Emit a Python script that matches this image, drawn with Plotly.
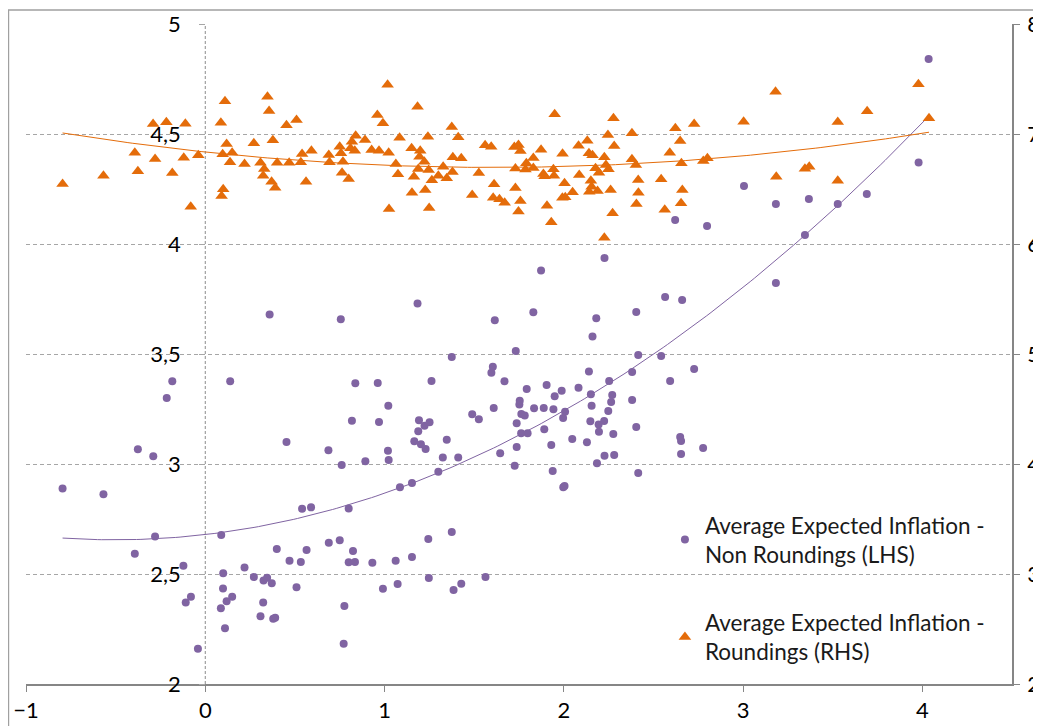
import numpy as np
import plotly.graph_objects as go

# ---------------- data ----------------
non_round_x = [-0.796, -0.568, -0.393, -0.376, -0.290, -0.280, -0.215, -0.184, -0.122, -0.109, -0.080, -0.041,
               0.089, 0.100, 0.099, 0.087, 0.110, 0.119, 0.150, 0.139, 0.219, 0.271, 0.325, 0.345, 0.371, 0.323,
               0.308, 0.379, 0.390, 0.399, 0.359, 0.453, 0.470, 0.533, 0.509, 0.565, 0.540, 0.590,
               0.689, 0.750, 0.824, 0.800, 0.835, 0.800, 0.932, 0.776, 0.772, 0.991, 1.062, 1.073, 1.153, 1.244,
               1.247, 1.375, 1.385, 1.428, 1.563,
               0.687, 0.756, 0.761, 0.818, 0.837, 0.893, 0.962, 0.969, 1.021, 1.019, 1.023, 1.086, 1.153, 1.184,
               1.192, 1.188, 1.166, 1.203, 1.229, 1.223, 1.251, 1.262, 1.300, 1.325, 1.347, 1.375, 1.411, 1.489,
               1.526, 1.596, 1.604, 1.615, 1.609, 1.645, 1.669, 1.732, 1.726, 1.737, 1.737, 1.752, 1.754, 1.762,
               1.763, 1.782, 1.798, 1.793, 1.830, 1.834, 1.888, 1.891, 1.904, 1.930, 1.938, 1.942, 1.949, 1.988,
               1.996, 2.007, 1.997, 2.004, 2.047, 2.082, 2.129, 2.140, 2.151, 2.155, 2.148, 2.160, 2.181, 2.194,
               2.196, 2.185, 2.227, 2.225, 2.253, 2.270, 2.264, 2.248, 1.873, 2.227,
               2.276, 2.281, 2.381, 2.381, 2.404, 2.404, 2.415, 2.415, 2.543, 2.565, 2.593, 2.621, 2.649, 2.654,
               2.654, 2.660, 2.727, 2.777, 2.799, 3.005, 3.183, 3.183, 3.345, 3.367, 3.528, 3.690, 3.979, 4.035]
non_round_y = [2.889, 2.862, 2.592, 3.067, 3.035, 2.671, 3.300, 3.376, 2.538, 2.370, 2.397, 2.160,
               2.677, 2.503, 2.434, 2.344, 2.253, 2.376, 2.397, 3.376, 2.529, 2.486, 2.471, 2.483, 2.458, 2.370,
               2.308, 2.297, 2.301, 2.614, 3.680, 3.100, 2.560, 2.555, 2.440, 2.609, 2.797, 2.803,
               2.642, 2.653, 2.605, 2.553, 2.555, 2.798, 2.551, 2.355, 2.183, 2.433, 2.560, 2.455, 2.577, 2.659,
               2.482, 2.691, 2.427, 2.456, 2.486,
               3.062, 3.658, 2.995, 3.197, 3.367, 3.012, 3.368, 3.191, 3.265, 3.060, 3.018, 2.894, 2.914, 3.729,
               3.199, 3.149, 3.103, 3.090, 3.068, 3.174, 3.190, 3.377, 2.965, 3.029, 3.110, 3.486, 3.029, 3.226,
               3.203, 3.415, 3.442, 3.653, 3.255, 3.049, 3.376, 3.514, 2.992, 3.077, 3.185, 3.271, 3.288, 3.140,
               3.227, 3.221, 3.140, 3.341, 3.690, 3.253, 3.255, 3.158, 3.359, 3.086, 2.968, 3.249, 3.308, 3.333,
               3.209, 3.238, 2.894, 2.900, 3.114, 3.347, 3.099, 3.420, 3.317, 3.265, 3.194, 3.580, 3.662, 3.179,
               3.147, 3.003, 3.038, 3.195, 3.377, 3.314, 3.282, 3.241, 3.880, 3.936,
               3.136, 3.041, 3.418, 3.291, 3.691, 3.168, 3.495, 2.959, 3.491, 3.759, 3.377, 4.109, 3.123, 3.105,
               3.045, 3.745, 3.432, 3.073, 4.082, 4.264, 4.182, 3.823, 4.041, 4.205, 4.182, 4.227, 4.370, 4.841]

round_x = [-0.796, -0.568, -0.393, -0.376, -0.291, -0.217, -0.111, -0.280, -0.184, -0.120, -0.081, -0.039,
           0.110, 0.087, 0.091, 0.100, 0.119, 0.097, 0.150, 0.138, 0.219, 0.271, 0.347, 0.356, 0.377, 0.308,
           0.329, 0.323, 0.370, 0.390, 0.401, 0.453, 0.509, 0.468, 0.533, 0.540, 0.562, 0.592,
           0.689, 0.693, 0.750, 0.757, 0.768, 0.763, 0.800, 0.810, 0.818, 0.839, 0.834, 0.891, 0.928, 0.969,
           0.960, 0.991, 1.017, 1.023, 1.025, 1.063, 1.075, 1.084,
           1.151, 1.153, 1.184, 1.199, 1.195, 1.222, 1.188, 1.164, 1.242, 1.246, 1.264, 1.227, 1.249, 1.300,
           1.327, 1.375, 1.411, 1.381, 1.428, 1.347, 1.379, 1.526, 1.489, 1.561, 1.595, 1.611, 1.606, 1.641,
           1.670,
           1.724, 1.747, 1.758, 1.730, 1.730, 1.758, 1.747, 1.786, 1.791, 1.830, 1.830,
           1.873, 1.886, 1.893, 1.942, 1.945, 1.906, 1.930, 1.949, 1.993, 2.004, 1.992, 2.008, 2.049, 2.082,
           2.131, 2.140, 2.160, 2.086, 2.151, 2.155, 2.142, 2.188, 2.177, 2.196, 2.226, 2.226, 2.246,
           2.277, 2.281, 2.235, 2.249, 2.261, 2.272, 2.380, 2.380, 2.402, 2.415, 2.416, 2.405, 2.543, 2.563,
           2.622, 2.649, 2.591, 2.656, 2.661, 2.654, 2.727, 2.778, 2.801, 3.003, 3.185, 3.181, 3.345, 3.369,
           3.528, 3.692, 3.978, 4.037, 3.528]
round_y = [6.545, 6.621, 6.830, 6.661, 7.091, 7.106, 7.094, 6.773, 6.645, 6.785, 6.339, 6.806,
           7.297, 7.103, 6.436, 6.497, 6.909, 6.815, 6.830, 6.743, 6.727, 6.915, 7.339, 7.209, 6.943, 6.739,
           6.682, 6.621, 6.566, 6.512, 6.739, 7.079, 7.127, 6.739, 6.743, 6.818, 6.566, 6.848,
           6.809, 6.743, 6.885, 6.825, 6.748, 6.648, 6.591, 6.870, 6.930, 6.985, 6.848, 6.945, 6.855, 6.848,
           7.173, 7.097, 7.448, 6.830, 6.318, 6.727, 6.634, 6.966,
           6.870, 6.466, 7.248, 6.848, 6.794, 6.748, 6.682, 6.612, 6.975, 6.673, 6.579, 6.491, 6.327, 6.621,
           6.703, 7.064, 6.970, 6.788, 6.779, 6.597, 6.655, 6.645, 6.445, 6.897, 6.885, 6.543, 6.421, 6.406,
           6.375,
           6.882, 6.900, 6.845, 6.686, 6.509, 6.391, 6.295, 6.677, 6.734, 6.782, 6.691,
           6.857, 6.636, 6.615, 6.679, 6.621, 6.348, 6.197, 7.179, 6.821, 6.552, 6.421, 6.425, 6.470, 6.894,
           6.939, 6.825, 6.806, 6.627, 6.575, 6.521, 6.475, 6.482, 6.688, 6.648, 6.788, 6.057, 6.991,
           7.143, 6.891, 6.718, 6.679, 6.491, 6.279, 7.006, 6.770, 6.718, 6.582, 6.466, 6.364, 6.588, 6.312,
           7.052, 6.936, 6.830, 6.734, 6.491, 6.370, 7.091, 6.755, 6.779, 7.112, 6.612, 7.385, 6.685, 6.703,
           7.109, 7.206, 7.452, 7.143, 6.575]

x_ticks = [-1, 0, 1, 2, 3, 4]
left_ticks = [2, 2.5, 3, 3.5, 4, 4.5, 5]
right_ticks = [2, 3, 4, 5, 6, 7, 8]
name_non_round = "Average Expected Inflation -<br>Non Roundings (LHS)"
name_round = "Average Expected Inflation -<br>Roundings (RHS)"

PURPLE = "#8064A2"
ORANGE = "#E46C0A"
GRID = "#A6A6A6"
AXIS = "#868686"
FONT = "Lato"


def quad_trend(xs, ys):
    """2nd-order polynomial trendline (as in the spreadsheet chart)."""
    xs = np.asarray(xs)
    ys = np.asarray(ys)
    c = np.polyfit(xs, ys, 2)
    xx = np.linspace(xs.min(), xs.max(), 200)
    return xx, np.polyval(c, xx)


fig = go.Figure()

fig.add_trace(go.Scatter(
    x=non_round_x, y=non_round_y, mode="markers", name=name_non_round,
    legendgroup="a", marker=dict(symbol="circle", size=8, color=PURPLE),
    yaxis="y"))
tx, ty = quad_trend(non_round_x, non_round_y)
fig.add_trace(go.Scatter(x=tx, y=ty, mode="lines", line=dict(color=PURPLE, width=1),
                         showlegend=False, hoverinfo="skip", yaxis="y"))

fig.add_trace(go.Scatter(
    x=round_x, y=round_y, mode="markers", name=name_round,
    legendgroup="b", marker=dict(symbol="triangle-up", size=11, color=ORANGE),
    yaxis="y2"))
tx2, ty2 = quad_trend(round_x, round_y)
fig.add_trace(go.Scatter(x=tx2, y=ty2, mode="lines", line=dict(color=ORANGE, width=1),
                         showlegend=False, hoverinfo="skip", yaxis="y2"))

zero_pos = (0 - (-1)) / (4.5 - (-1))

fig.update_layout(
    width=1041, height=726,
    margin=dict(l=18, r=37, t=16, b=50, autoexpand=False),
    paper_bgcolor="white", plot_bgcolor="white",
    separators=", ",
    font=dict(family=FONT, size=22, color="black"),
    showlegend=True,
    legend=dict(x=0.648, y=0.273, xanchor="left", yanchor="top",
                bgcolor="rgba(0,0,0,0)", tracegroupgap=36,
                font=dict(family=FONT, size=22.5, color="#1a1a1a")),
    xaxis=dict(range=[-1, 4.5], tickmode="array", tickvals=x_ticks,
               showgrid=False, zeroline=False, showline=True, linecolor=AXIS, linewidth=1.5,
               ticks="outside", ticklen=6, tickcolor=AXIS, domain=[0, 1],
               tickfont=dict(size=22), automargin=False),
    yaxis=dict(range=[2, 5], tickmode="array", tickvals=left_ticks,
               anchor="free", position=zero_pos, showline=False, zeroline=False,
               showgrid=True, gridcolor=GRID, griddash="4px,3px", gridwidth=1,
               ticks="outside", ticklen=6, tickcolor=GRID, ticklabelstandoff=14,
               tickformat=".1~f", tickfont=dict(size=22), automargin=False),
    yaxis2=dict(range=[2, 8], tickmode="array", tickvals=right_ticks,
                overlaying="y", side="right", anchor="x", showgrid=False, zeroline=False,
                showline=True, linecolor=AXIS, linewidth=1.5,
                ticks="outside", ticklen=6, tickcolor=AXIS, ticklabelstandoff=3,
                tickfont=dict(size=22), automargin=False),
    shapes=[
        # dashed vertical axis line at x = 0
        dict(type="line", xref="x", yref="paper", x0=0, x1=0, y0=0, y1=1,
             line=dict(color="#8C8C8C", width=1, dash="3px,2px"), layer="below"),
        # outer chart border
        dict(type="rect", xref="paper", yref="paper", x0=-0.0178, x1=1.2, y0=-0.2, y1=1.0212,
             line=dict(color="#A0A0A0", width=1.5), fillcolor="rgba(0,0,0,0)"),
    ],
)

fig.write_html("out.html")
